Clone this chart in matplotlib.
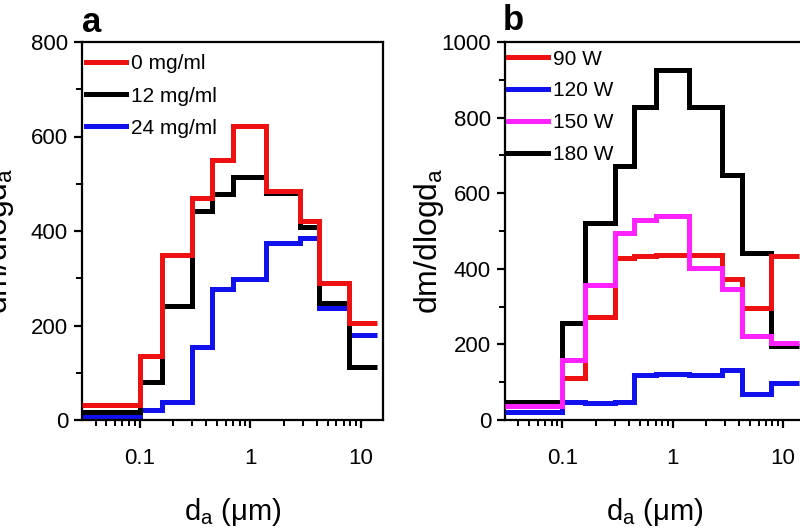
import matplotlib
matplotlib.use("Agg")
import matplotlib.pyplot as plt
from matplotlib.ticker import MultipleLocator, LogLocator, FixedLocator, FixedFormatter, NullFormatter

plt.rcParams['font.family'] = ['Liberation Sans', 'DejaVu Sans']
plt.rcParams['mathtext.fontset'] = 'custom'
plt.rcParams['mathtext.rm'] = 'Liberation Sans'
plt.rcParams['mathtext.it'] = 'Liberation Sans'

# bin edges (aerodynamic diameter, um)
edges = [0.03, 0.1, 0.16, 0.3, 0.45, 0.7, 1.4, 2.8, 4.2, 7.8, 14.0]

# panel a
labels_a = ["0 mg/ml", "12 mg/ml", "24 mg/ml"]
conc0 = [32, 136, 350, 470, 550, 622, 485, 422, 289, 205]
conc12 = [16, 80, 241, 443, 478, 515, 480, 409, 248, 113]
conc24 = [8, 21, 39, 154, 277, 298, 374, 386, 236, 180]
colors_a = ["#ee1111", "#000000", "#1111ee"]
zorders_a = [4, 3, 2]

# panel b
labels_b = ["90 W", "120 W", "150 W", "180 W"]
w90 = [36, 110, 272, 428, 434, 436, 436, 372, 297, 434]
w120 = [22, 48, 45, 47, 120, 122, 118, 133, 70, 98]
w150 = [38, 159, 356, 495, 530, 541, 403, 346, 222, 203]
w180 = [47, 256, 520, 671, 829, 926, 829, 649, 442, 195]
colors_b = ["#ee1111", "#1111ee", "#ff22ff", "#000000"]
zorders_b = [4, 3, 5, 2]

fig = plt.figure(figsize=(8, 5.3), dpi=100)
ax_a = fig.add_axes([82/800, 1-420/530, 301/800, 378/530])
ax_b = fig.add_axes([505/800, 1-420/530, 300/800, 378/530])

def style(ax, ymax, ymajor):
    ax.set_xscale('log')
    ax.set_xlim(0.0302, 15.8)
    ax.set_ylim(0, ymax)
    ax.yaxis.set_major_locator(MultipleLocator(ymajor))
    ax.yaxis.set_minor_locator(MultipleLocator(ymajor/2))
    ax.xaxis.set_major_locator(FixedLocator([0.1, 1, 10]))
    ax.xaxis.set_major_formatter(FixedFormatter(["0.1", "1", "10"]))
    ax.xaxis.set_minor_locator(LogLocator(base=10, subs=range(2, 10), numticks=20))
    ax.xaxis.set_minor_formatter(NullFormatter())
    for s in ax.spines.values():
        s.set_linewidth(1.6)
    ax.tick_params(which='major', direction='out', length=6, width=1.6, labelsize=16, pad=4)
    ax.tick_params(which='minor', direction='out', length=4, width=1.4)
    ax.tick_params(axis='x', which='major', pad=14)
    ax.set_xlabel(r"d$_\mathregular{a}$ ($\mu$m)", fontsize=21)
    ax.set_ylabel(r"dm/dlogd$_\mathregular{a}$", fontsize=23)

for vals, c, lab, z in zip([conc0, conc12, conc24], colors_a, labels_a, zorders_a):
    ax_a.stairs(vals, edges, baseline=None, color=c, lw=3.6, label=lab, zorder=z)
for vals, c, lab, z in zip([w90, w120, w150, w180], colors_b, labels_b, zorders_b):
    ax_b.stairs(vals, edges, baseline=None, color=c, lw=3.6, label=lab, zorder=z)

style(ax_a, 800, 200)
style(ax_b, 1000, 200)

ax_a.xaxis.set_label_coords(0.5, -0.2)
ax_b.xaxis.set_label_coords(0.5, -0.2)
ax_a.yaxis.set_label_coords(-0.219, 0.474)
ax_b.yaxis.set_label_coords(-0.197, 0.474)

for ax, anchor, ls in ((ax_a, (0.013, 0.967), 0.63), (ax_b, (0.010, 0.980), 0.62)):
    leg = ax.legend(loc='upper left', bbox_to_anchor=anchor, frameon=False,
                    fontsize=15, handlelength=1.92, handletextpad=0.25,
                    labelspacing=ls, borderpad=0.0, borderaxespad=0.0)
    for h in leg.get_lines():
        h.set_linewidth(3.6)

fig.text(82/800, 1-22/530, "a", fontsize=25, fontweight='bold', va='center', ha='left')
fig.text(503/800, 1-21/530, "b", fontsize=25, fontweight='bold', va='center', ha='left')

fig.savefig("out.png", dpi=100)
